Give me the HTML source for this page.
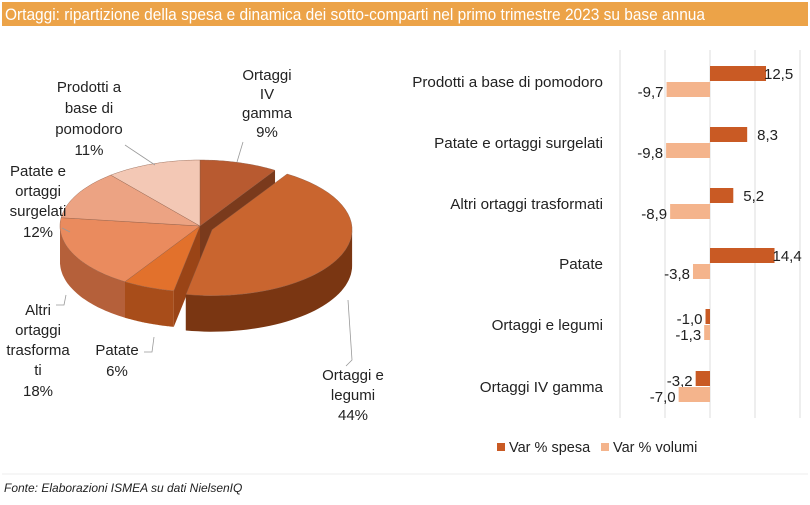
<!DOCTYPE html>
<html><head><meta charset="utf-8"><style>
body{margin:0;background:#fff}
svg text{font-family:"Liberation Sans",Arial,sans-serif;fill:#222}
</style></head><body>
<svg id="s" width="810" height="500" xmlns="http://www.w3.org/2000/svg">
<rect x="0" y="0" width="810" height="500" fill="#fff"/>
<rect x="2" y="2" width="806" height="24" fill="#eca348"/>
<text x="5" y="20" font-size="17" style="fill:#fff" textLength="700" lengthAdjust="spacingAndGlyphs">Ortaggi: ripartizione della spesa e dinamica dei sotto-comparti nel primo trimestre 2023 su base annua</text>
<g id="pie"></g>
<g stroke="#999" stroke-width="0.8" fill="none">
<polyline points="243,142 237,162"/>
<polyline points="125,145 155,165"/>
<polyline points="62,228 70,232"/>
<polyline points="56,305 64,305 66,295"/>
<polyline points="144,352 152,352 154,337"/>
<polyline points="346,366 352,360 348,300"/>
</g>
<g font-size="15" text-anchor="middle">
<text x="267" y="80">Ortaggi</text><text x="267" y="99">IV</text><text x="267" y="118">gamma</text><text x="267" y="137">9%</text>
<text x="89" y="92">Prodotti a</text><text x="89" y="113">base di</text><text x="89" y="134">pomodoro</text><text x="89" y="155">11%</text>
<text x="38" y="176">Patate e</text><text x="38" y="196">ortaggi</text><text x="38" y="216">surgelati</text><text x="38" y="237">12%</text>
<text x="38" y="315">Altri</text><text x="38" y="335">ortaggi</text><text x="38" y="355">trasforma</text><text x="38" y="375">ti</text><text x="38" y="396">18%</text>
<text x="117" y="355">Patate</text><text x="117" y="376">6%</text>
<text x="353" y="380">Ortaggi e</text><text x="353" y="400">legumi</text><text x="353" y="420">44%</text>
</g>
<g stroke="#ddd" stroke-width="1">
<line x1="620" y1="50" x2="620" y2="418"/><line x1="665" y1="50" x2="665" y2="418"/>
<line x1="710" y1="50" x2="710" y2="418"/><line x1="755" y1="50" x2="755" y2="418"/>
<line x1="800" y1="50" x2="800" y2="418"/>
</g>
<g id="bars"></g>
<rect x="497" y="443" width="8" height="8" fill="#c95a24"/>
<text x="509" y="452" font-size="14.5">Var % spesa</text>
<rect x="601" y="443" width="8" height="8" fill="#f4b48c"/>
<text x="613" y="452" font-size="14.5">Var % volumi</text>
<line x1="2" y1="474" x2="808" y2="474" stroke="#eee"/>
<text x="4" y="492" font-size="12" font-style="italic">Fonte: Elaborazioni ISMEA su dati NielsenIQ</text>
</svg>
<script>
(function(){
var NS="http://www.w3.org/2000/svg";
function el(p,t,a){var e=document.createElementNS(NS,t);for(var k in a)e.setAttribute(k,a[k]);p.appendChild(e);return e;}
var B=document.getElementById('bars');
var rows=[["Prodotti a base di pomodoro",12.5,-9.7,82],["Patate e ortaggi surgelati",8.3,-9.8,143],["Altri ortaggi trasformati",5.2,-8.9,204],["Patate",14.4,-3.8,264],["Ortaggi e legumi",-1.0,-1.3,325],["Ortaggi IV gamma",-3.2,-7.0,387]];
var z=710,k=4.48;
rows.forEach(function(r){
 var y=r[3];
 el(B,'text',{x:603,y:y+5,'font-size':15.2,'text-anchor':'end'}).textContent=r[0];
 [[r[1],y-16,'#c95a24'],[r[2],y,'#f4b48c']].forEach(function(b){
  var v=b[0],w=Math.abs(v)*k,x=v>=0?z:z-w;
  el(B,'rect',{x:x,y:b[1],width:w,height:15,fill:b[2]});
  var s=(v.toFixed(1)).replace('.',',');
  if(v>=0)el(B,'text',{x:z+w+(v>10?-2:10),y:b[1]+13,'font-size':15}).textContent=s;
  else el(B,'text',{x:x-3,y:b[1]+15,'font-size':15,'text-anchor':'end'}).textContent=s;
 });
});
var P=document.getElementById('pie');
var cx=200,cy=226,rx=140,ry=66,d=36;
var sl=[[9,'#b85a30','#8a3e1c',0],[44,'#c9652f','#7a3612',1],[6,'#e2712c','#a84d1a',0],[18,'#ea8b5e','#b5603a',0],[12,'#eca383','#c07c5e',0],[11,'#f3c8b5','#d3a591',0]];
function pt(c,a,dy){return [c[0]+rx*Math.sin(a),c[1]-ry*Math.cos(a)+(dy||0)];}
var a0=0,items=[];
sl.forEach(function(s){var a1=a0+s[0]/100*2*Math.PI;var c=[cx,cy];
 if(s[3]){var m=(a0+a1)/2;c=[cx+13*Math.sin(m),cy-10*Math.cos(m)];}
 items.push({a0:a0,a1:a1,c:c,tp:s[1],side:s[2],ex:s[3]});a0=a1;});
function arc(c,a,b,dy){var p="",n=40;for(var i=0;i<=n;i++){var t=a+(b-a)*i/n;var q=pt(c,t,dy);p+=(i?"L":"")+q[0].toFixed(1)+","+q[1].toFixed(1);}return p;}
function wall(it){var a=Math.max(it.a0,Math.PI/2),b=Math.min(it.a1,3*Math.PI/2);
 if(b>a)el(P,'path',{d:"M"+arc(it.c,a,b,0)+"L"+arc(it.c,b,a,d)+"Z",fill:it.side});}
function face(it,a,col){var q=pt(it.c,a),c=it.c;
 el(P,'path',{d:"M"+c[0]+","+c[1]+"L"+q[0]+","+q[1]+"L"+q[0]+","+(q[1]+d)+"L"+c[0]+","+(c[1]+d)+"Z",fill:col});}
function drawTop(it){el(P,'path',{d:"M"+it.c[0]+","+it.c[1]+"L"+arc(it.c,it.a0,it.a1,0)+"Z",fill:it.tp,stroke:'#8a5a45','stroke-width':0.4});}
items.forEach(function(it){if(!it.ex)wall(it);});
face(items[0],items[0].a1,'#7a3a1c');
face(items[2],items[2].a0,'#9a4416');
items.forEach(function(it){if(!it.ex)drawTop(it);});
var e=items[1];
face(e,e.a1,'#6e3010');
wall(e);drawTop(e);
})();
</script>
</body></html>
